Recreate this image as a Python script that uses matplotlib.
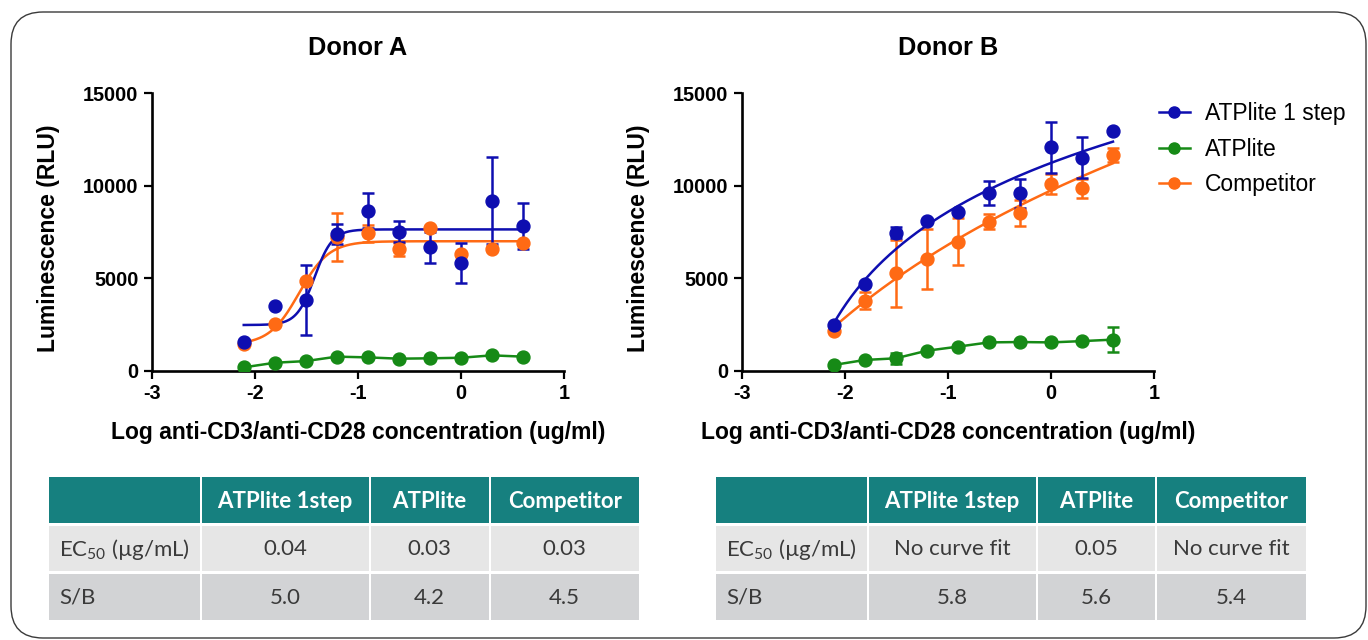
import numpy as np
import matplotlib
matplotlib.use("Agg")
import matplotlib.pyplot as plt
from matplotlib.patches import Rectangle, FancyBboxPatch
from matplotlib.lines import Line2D

# ---------------- data ----------------
log_conc = [-2.107, -1.806, -1.505, -1.204, -0.903, -0.602, -0.301, 0.0, 0.301, 0.602]

a_1step = [1530, 3500, 3820, 7370, 8650, 7520, 6670, 5840, 9190, 7820]
a_1step_err = [0, 0, 1900, 540, 940, 550, 840, 1080, 2350, 1240]
a_atplite = [180, 430, 520, 760, 720, 650, 670, 700, 830, 760]
a_atplite_err = [0, 0, 0, 0, 0, 0, 0, 0, 0, 0]
a_comp = [1440, 2520, 4830, 7250, 7430, 6560, 7700, 6290, 6580, 6890]
a_comp_err = [0, 0, 0, 1300, 470, 350, 0, 0, 0, 0]

b_1step = [2470, 4670, 7470, 8100, 8600, 9600, 9600, 12080, 11520, 12980]
b_1step_err = [0, 0, 300, 0, 0, 650, 780, 1380, 1100, 0]
b_atplite = [310, 580, 670, 1080, 1300, 1530, 1550, 1530, 1600, 1680]
b_atplite_err = [0, 0, 300, 0, 0, 0, 0, 0, 0, 680]
b_comp = [2150, 3790, 5270, 6040, 6980, 8060, 8550, 10080, 9870, 11670]
b_comp_err = [0, 480, 1800, 1620, 1250, 400, 700, 550, 520, 380]

# fitted curve parameters
a_1step_fit = dict(bottom=2470, top=7640, logec50=-1.42, hill=5.0)
a_comp_fit = dict(bottom=1400, top=7000, logec50=-1.57, hill=3.0)
b_1step_fit = dict(a=5552, b=13172, d=2.7)
b_comp_fit = dict(a=-7875, b=26977, d=4.5)

series_names = ["ATPlite 1 step", "ATPlite", "Competitor"]
panel_titles = ["Donor A", "Donor B"]
x_label = "Log anti-CD3/anti-CD28 concentration (ug/ml)"
y_label = "Luminescence (RLU)"
x_ticks = [-3, -2, -1, 0, 1]
y_ticks = [0, 5000, 10000, 15000]

table_cols = ["ATPlite 1step", "ATPlite", "Competitor"]
row_labels = ["EC$_{50}$ (µg/mL)", "S/B"]
a_ec50 = ["0.04", "0.03", "0.03"]
a_sb = ["5.0", "4.2", "4.5"]
b_ec50 = ["No curve fit", "0.05", "No curve fit"]
b_sb = ["5.8", "5.6", "5.4"]

# ---------------- style ----------------
BLUE = "#0E0EB0"
GREEN = "#168A16"
ORANGE = "#FF6A14"
TEAL = "#16807F"
ROW1 = "#E6E6E6"
ROW2 = "#D2D3D5"
BODY_TXT = "#3a3a3a"

plt.rcParams["font.family"] = ["Liberation Sans", "DejaVu Sans"]
plt.rcParams["mathtext.fontset"] = "custom"
plt.rcParams["mathtext.rm"] = "Lato"
plt.rcParams["mathtext.it"] = "Lato:italic"
plt.rcParams["mathtext.bf"] = "Lato:bold"

W, H = 1368, 640
fig = plt.figure(figsize=(W / 100, H / 100), dpi=100)

bg = fig.add_axes([0, 0, 1, 1])
bg.set_xlim(0, W)
bg.set_ylim(H, 0)
bg.axis("off")
bg.add_patch(FancyBboxPatch((11, 12), 1355, 626, boxstyle="round,pad=0,rounding_size=32",
                            fc="none", ec="#3a3a3a", lw=1.0))


def four_pl(x, bottom, top, logec50, hill):
    x = np.asarray(x)
    return bottom + (top - bottom) / (1 + 10 ** ((logec50 - x) * hill))


def log_fit(x, a, b, d):
    return a + b * np.log10(np.asarray(x) + d)


def make_axes(left_px):
    left = left_px / W
    bottom = (H - 370.7) / H
    ax = fig.add_axes([left, bottom, 412.3 / W, 277.4 / H])
    ax.set_xlim(-3, 1)
    ax.set_ylim(0, 15000)
    for s in ["top", "right"]:
        ax.spines[s].set_visible(False)
    for s in ["left", "bottom"]:
        ax.spines[s].set_linewidth(1.9)
    ax.set_xticks(x_ticks)
    ax.set_yticks(y_ticks)
    ax.set_xticklabels([f"{t}" for t in x_ticks])
    ax.tick_params(direction="out", length=5.5, width=1.6, labelsize=14.3, pad=4)
    for lab in ax.get_xticklabels() + ax.get_yticklabels():
        lab.set_fontweight("bold")
    ax.set_xlabel(x_label, fontsize=16.5, fontweight="bold")
    ax.xaxis.set_label_coords(0.5, -0.222)
    ax.xaxis.label.set_verticalalignment("center")
    ax.set_ylabel(y_label, fontsize=16.5, fontweight="bold")
    ax.yaxis.set_label_coords(-0.2515, 0.478)
    ax.yaxis.label.set_verticalalignment("center")
    return ax


def draw_series(ax, y, err, color, fit_x=None, fit_y=None, connect=False):
    ekw = dict(fmt="none", ecolor=color, elinewidth=1.8, capsize=4.5, capthick=1.8, zorder=3)
    e = np.asarray(err, dtype=float)
    mask = e > 0
    if mask.any():
        ax.errorbar(np.asarray(log_conc)[mask], np.asarray(y)[mask], yerr=e[mask], **ekw)
    if connect:
        ax.plot(log_conc, y, color=color, lw=1.8, zorder=3)
    if fit_x is not None:
        ax.plot(fit_x, fit_y, color=color, lw=1.8, zorder=3)
    ax.plot(log_conc, y, "o", color=color, ms=9.3, mec=color, zorder=4)


xs = np.linspace(log_conc[0], log_conc[-1], 300)

axA = make_axes(151.7)
draw_series(axA, a_atplite, a_atplite_err, GREEN, connect=True)
draw_series(axA, a_comp, a_comp_err, ORANGE, xs, four_pl(xs, **a_comp_fit))
draw_series(axA, a_1step, a_1step_err, BLUE, xs, four_pl(xs, **a_1step_fit))

axB = make_axes(741.7)
draw_series(axB, b_atplite, b_atplite_err, GREEN, connect=True)
draw_series(axB, b_comp, b_comp_err, ORANGE, xs, log_fit(xs, **b_comp_fit))
draw_series(axB, b_1step, b_1step_err, BLUE, xs, log_fit(xs, **b_1step_fit))

for ax, t in zip([axA, axB], panel_titles):
    ax.text(0.5, (370.7 - 48) / 277.4, t, transform=ax.transAxes, ha="center", va="center",
            fontsize=18.3, fontweight="bold")

handles = [Line2D([], [], color=c, lw=1.8, marker="o", ms=8) for c in [BLUE, GREEN, ORANGE]]
axB.legend(handles, series_names, loc="upper left", frameon=False, fontsize=16.5,
           bbox_to_anchor=(1159 / W, (H - 102) / H), bbox_transform=fig.transFigure,
           handlelength=1.35, handletextpad=0.65, labelspacing=0.55, borderaxespad=0, borderpad=0)

# ---------------- tables ----------------
row_tops = [477, 525.7, 573.7]
row_bots = [523.3, 571, 620]


def draw_table(col_edges, ec50_vals, sb_vals):
    rows = [[""] + table_cols, [row_labels[0]] + ec50_vals, [row_labels[1]] + sb_vals]
    fills = [TEAL, ROW1, ROW2]
    for r, (vals, fc) in enumerate(zip(rows, fills)):
        y0, y1 = row_tops[r], row_bots[r]
        for c in range(4):
            x0, x1 = col_edges[c]
            bg.add_patch(Rectangle((x0, y0), x1 - x0, y1 - y0, fc=fc, ec="none"))
            txt = vals[c]
            if not txt:
                continue
            yc = (y0 + y1) / 2 + 1
            if r == 0:
                bg.text((x0 + x1) / 2, yc, txt, ha="center", va="center", color="white",
                        fontsize=16, fontweight="bold", family="Lato")
            elif c == 0:
                bg.text(x0 + 10, yc, txt, ha="left", va="center", color=BODY_TXT,
                        fontsize=16, family="Lato")
            else:
                bg.text((x0 + x1) / 2, yc, txt, ha="center", va="center", color=BODY_TXT,
                        fontsize=16, family="Lato")


draw_table([(49, 199.5), (201.5, 368.5), (370.5, 488.5), (490.5, 639)], a_ec50, a_sb)
draw_table([(716, 866.5), (868.5, 1035.5), (1037.5, 1154.5), (1156.5, 1306)], b_ec50, b_sb)

fig.savefig("out.png", dpi=100)
